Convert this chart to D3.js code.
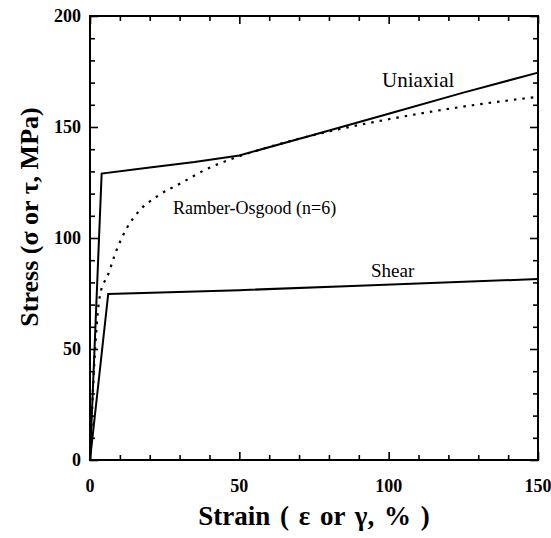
<!DOCTYPE html>
<html>
<head>
<meta charset="utf-8">
<script src="https://cdn.jsdelivr.net/npm/d3@7"></script>
<style>
  body { margin: 0; background: #fff; }
  text { font-family: "Liberation Serif", "Times New Roman", Times, serif; fill: #000; }
  .tk path { display: none; }
  .tk line { stroke: #000; stroke-width: 1.6px; }
</style>
</head>
<body>
<svg id="chart" width="551" height="538"></svg>
<script>
// curves (strain %, stress MPa)
var uniaxial = [[0,0],[3.9,129],[20,131.8],[35,134.2],[50,137.2],[75,146.5],[100,156],[125,165.5],[150,174.5]];
var ramberg = [[0,0],[1.5,45],[2.5,65],[3.9,77.5],[5.6,82],[8.9,94.6],[12.3,104.4],[16.2,111.8],[22.3,118.6],
               [30.7,124.9],[39,131],[48,135.9],[60,141],[80,148],[100,153.5],[124,159],[150,163.6]];
var shear = [[0,0],[6.1,74.8],[50,76.5],[90,78.5],[150,81.5]];
var xTicks = [0, 50, 100, 150];
var yTicks = [0, 50, 100, 150, 200];

var svg = d3.select("#chart");
var x = d3.scaleLinear().domain([0, 150]).range([90, 538]);
var y = d3.scaleLinear().domain([0, 200]).range([460, 16]);

var line = d3.line().x(function(d) { return x(d[0]); }).y(function(d) { return y(d[1]); });

// inward ticks on all four sides, minor every 10, major every 50
var xMinor = d3.range(0, 151, 10).filter(function(v) { return v % 50 != 0; });
var yMinor = d3.range(0, 201, 10).filter(function(v) { return v % 50 != 0; });

function ticks(axis, vals, len, tr) {
  svg.append("g").attr("class", "tk").attr("transform", tr)
    .call(axis.tickValues(vals).tickSize(-len).tickFormat(""));
}
[[xMinor, 5], [xTicks, 8]].forEach(function(p) {
  ticks(d3.axisBottom(x), p[0], p[1], "translate(0," + y(0) + ")");
  ticks(d3.axisTop(x), p[0], p[1], "translate(0," + y(200) + ")");
});
[[yMinor, 5], [yTicks, 8]].forEach(function(p) {
  ticks(d3.axisLeft(y), p[0], p[1], "translate(" + x(0) + ",0)");
  ticks(d3.axisRight(y), p[0], p[1], "translate(" + x(150) + ",0)");
});

// frame
svg.append("rect")
  .attr("x", x(0)).attr("y", y(200))
  .attr("width", x(150) - x(0)).attr("height", y(0) - y(200))
  .attr("fill", "none").attr("stroke", "#000").attr("stroke-width", 2);

// tick labels
svg.selectAll(".xt").data(xTicks).enter().append("text")
  .attr("x", function(d) { return x(d); }).attr("y", 492)
  .attr("text-anchor", "middle").attr("font-size", 18).attr("font-weight", "bold")
  .text(function(d) { return d; });
svg.selectAll(".yt").data(yTicks).enter().append("text")
  .attr("x", 81).attr("y", function(d) { return y(d) + 6; })
  .attr("text-anchor", "end").attr("font-size", 18).attr("font-weight", "bold")
  .text(function(d) { return d; });

// curves
svg.append("path").datum(uniaxial).attr("d", line)
  .attr("fill", "none").attr("stroke", "#000").attr("stroke-width", 2);
svg.append("path").datum(shear).attr("d", line)
  .attr("fill", "none").attr("stroke", "#000").attr("stroke-width", 2);
svg.append("path").datum(ramberg).attr("d", line.curve(d3.curveMonotoneX))
  .attr("fill", "none").attr("stroke", "#000").attr("stroke-width", 2.2)
  .attr("stroke-dasharray", "2.5,6");

// curve labels
svg.append("text").attr("x", 382).attr("y", 87).attr("font-size", 21).text("Uniaxial");
svg.append("text").attr("x", 173).attr("y", 214).attr("font-size", 18).text("Ramber-Osgood (n=6)");
svg.append("text").attr("x", 371).attr("y", 277).attr("font-size", 19).text("Shear");

// axis titles
svg.append("text").attr("x", 314).attr("y", 525).attr("text-anchor", "middle")
  .attr("font-size", 27).attr("font-weight", "bold").attr("word-spacing", 3)
  .text("Strain ( ε or γ, % )");
svg.append("text").attr("transform", "translate(38,217) rotate(-90)").attr("text-anchor", "middle")
  .attr("font-size", 26).attr("font-weight", "bold").text("Stress (σ or τ, MPa)");
</script>
</body>
</html>
